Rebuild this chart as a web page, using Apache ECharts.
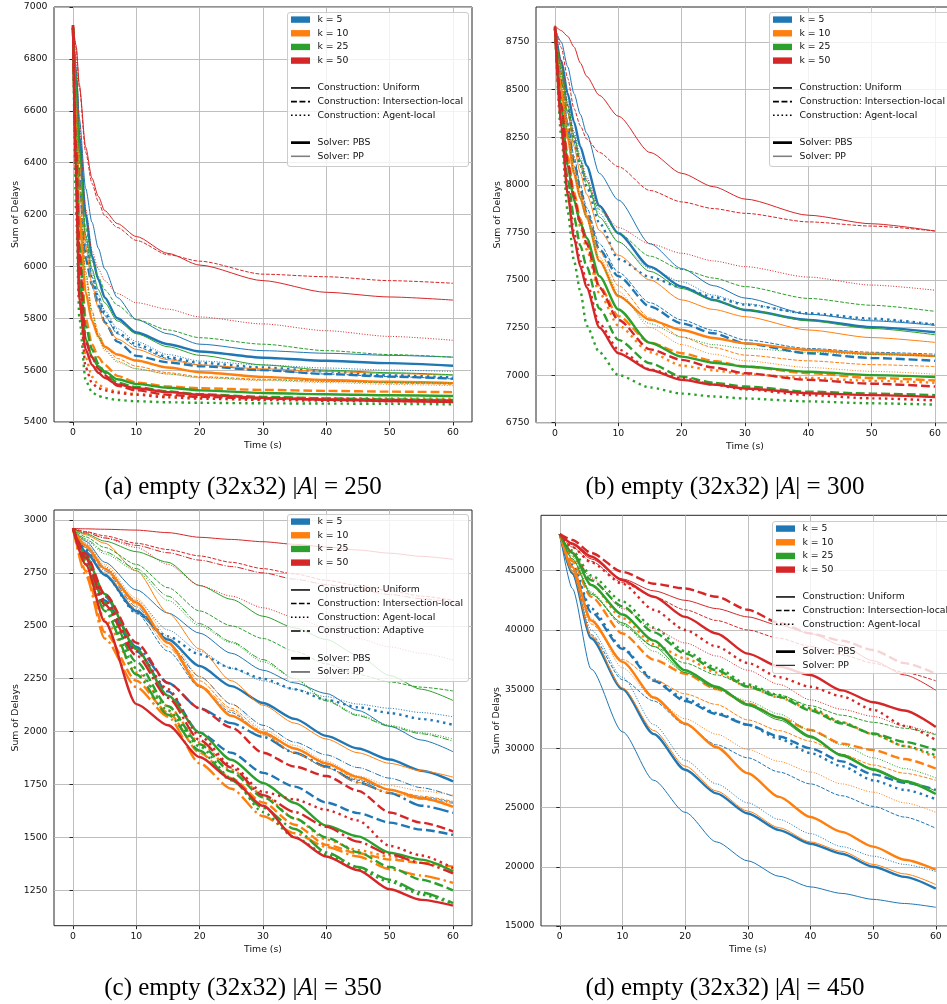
<!DOCTYPE html>
<html>
<head>
<meta charset="utf-8">
<script src="https://cdn.jsdelivr.net/npm/echarts@6/dist/echarts.min.js"></script>
<style>
html, body { margin: 0; padding: 0; background: #fff; }
#chart { width: 947px; height: 1004px; }
</style>
</head>
<body>
<div id="chart"></div>
<script>
// ---- categories ----
const K_LABELS = ['k = 5', 'k = 10', 'k = 25', 'k = 50'];
const K_COLORS = ['#1f77b4', '#ff7f0e', '#2ca02c', '#d62728'];
const SOLVERS = ['PBS', 'PP'];

// ---- time samples (s) ----
const TIME_A = [0, 0.5, 1, 2, 3, 4, 5, 7, 10, 15, 20, 30, 40, 50, 60];
const TIME_B = [0, 1, 2, 3, 4, 5, 7, 10, 15, 20, 25, 30, 40, 50, 60];
const TIME_C = [0, 2, 5, 10, 15, 20, 25, 30, 35, 40, 45, 50, 55, 60];
const TIME_D = [0, 2, 5, 10, 15, 20, 25, 30, 35, 40, 45, 50, 55, 60];

// ---- tick labels ----
const X_TICKS = [0, 10, 20, 30, 40, 50, 60];
const Y_TICKS_A = [5400, 5600, 5800, 6000, 6200, 6400, 6600, 6800, 7000];
const Y_TICKS_B = [6750, 7000, 7250, 7500, 7750, 8000, 8250, 8500, 8750];
const Y_TICKS_C = [1250, 1500, 1750, 2000, 2250, 2500, 2750, 3000];
const Y_TICKS_D = [15000, 20000, 25000, 30000, 35000, 40000, 45000];

// ---- (a) |A| = 250 : sum of delays ----
const a_k5_PBS = {
  'Uniform':            [6920, 6720, 6500, 6200, 6040, 5950, 5880, 5800, 5745, 5700, 5672, 5648, 5636, 5627, 5617],
  'Intersection-local': [6920, 6620, 6330, 6030, 5930, 5850, 5785, 5710, 5655, 5630, 5615, 5600, 5585, 5575, 5567],
  'Agent-local':        [6920, 6640, 6360, 6060, 5960, 5880, 5820, 5745, 5700, 5650, 5628, 5610, 5595, 5580, 5572]
};
const a_k5_PP = {
  'Uniform':            [6920, 6760, 6570, 6300, 6170, 6070, 5990, 5880, 5795, 5740, 5700, 5675, 5665, 5657, 5650],
  'Intersection-local': [6920, 6680, 6420, 6100, 5960, 5870, 5810, 5740, 5690, 5645, 5620, 5600, 5585, 5575, 5566],
  'Agent-local':        [6920, 6690, 6440, 6120, 5980, 5890, 5830, 5760, 5710, 5660, 5635, 5620, 5608, 5600, 5595]
};
const a_k10_PBS = {
  'Uniform':            [6920, 6550, 6200, 5900, 5790, 5730, 5690, 5660, 5637, 5610, 5592, 5574, 5562, 5555, 5550],
  'Intersection-local': [6920, 6500, 6130, 5800, 5700, 5650, 5620, 5578, 5552, 5537, 5530, 5524, 5520, 5517, 5515],
  'Agent-local':        [6920, 6380, 5950, 5650, 5575, 5545, 5530, 5517, 5508, 5500, 5496, 5494, 5492, 5491, 5490]
};
const a_k10_PP = {
  'Uniform':            [6920, 6680, 6420, 6080, 5930, 5840, 5780, 5720, 5680, 5640, 5620, 5605, 5595, 5587, 5580],
  'Intersection-local': [6920, 6620, 6330, 5980, 5830, 5745, 5695, 5645, 5615, 5590, 5575, 5565, 5558, 5550, 5545],
  'Agent-local':        [6920, 6600, 6300, 5950, 5800, 5720, 5675, 5630, 5605, 5585, 5570, 5560, 5552, 5545, 5540]
};
const a_k25_PBS = {
  'Uniform':            [6920, 6350, 5950, 5720, 5650, 5615, 5595, 5565, 5547, 5532, 5522, 5512, 5507, 5503, 5500],
  'Intersection-local': [6920, 6450, 6080, 5770, 5680, 5625, 5590, 5552, 5535, 5518, 5507, 5497, 5491, 5487, 5485],
  'Agent-local':        [6920, 6200, 5800, 5560, 5515, 5500, 5493, 5485, 5480, 5476, 5474, 5472, 5471, 5470, 5468]
};
const a_k25_PP = {
  'Uniform':            [6920, 6690, 6450, 6120, 5990, 5910, 5860, 5790, 5740, 5690, 5657, 5620, 5600, 5590, 5582],
  'Intersection-local': [6920, 6750, 6460, 6150, 6020, 5960, 5910, 5850, 5795, 5755, 5725, 5700, 5675, 5660, 5650],
  'Agent-local':        [6920, 6640, 6320, 5970, 5820, 5730, 5680, 5635, 5605, 5585, 5572, 5562, 5556, 5552, 5550]
};
const a_k50_PBS = {
  'Uniform':            [6930, 6300, 5870, 5680, 5620, 5590, 5570, 5545, 5530, 5515, 5505, 5493, 5486, 5481, 5477],
  'Intersection-local': [6930, 6450, 6050, 5710, 5650, 5605, 5580, 5540, 5522, 5505, 5497, 5490, 5487, 5485, 5483],
  'Agent-local':        [6930, 6350, 5900, 5610, 5550, 5530, 5522, 5512, 5505, 5495, 5490, 5485, 5482, 5480, 5478]
};
const a_k50_PP = {
  'Uniform':            [6930, 6850, 6700, 6460, 6340, 6270, 6215, 6165, 6115, 6050, 6005, 5945, 5900, 5882, 5870],
  'Intersection-local': [6930, 6840, 6690, 6440, 6320, 6250, 6195, 6150, 6100, 6045, 6020, 5970, 5960, 5945, 5935],
  'Agent-local':        [6930, 6800, 6550, 6220, 6060, 5990, 5945, 5895, 5860, 5835, 5805, 5778, 5752, 5730, 5715]
};

// ---- (b) |A| = 300 ----
const b_k5_PBS = {
  'Uniform':            [8820, 8650, 8480, 8330, 8200, 8100, 7890, 7745, 7570, 7465, 7395, 7342, 7290, 7252, 7225],
  'Intersection-local': [8820, 8550, 8300, 8120, 7970, 7850, 7660, 7520, 7360, 7272, 7220, 7167, 7115, 7090, 7075],
  'Agent-local':        [8820, 8600, 8400, 8230, 8100, 7990, 7800, 7610, 7515, 7460, 7410, 7370, 7325, 7297, 7265]
};
const b_k5_PP = {
  'Uniform':            [8820, 8750, 8620, 8480, 8370, 8270, 8060, 7920, 7690, 7560, 7470, 7405, 7320, 7285, 7262],
  'Intersection-local': [8820, 8580, 8330, 8150, 8000, 7880, 7690, 7540, 7380, 7290, 7235, 7185, 7140, 7120, 7110],
  'Agent-local':        [8820, 8630, 8440, 8280, 8150, 8040, 7850, 7700, 7560, 7490, 7420, 7375, 7320, 7290, 7268]
};
const b_k10_PBS = {
  'Uniform':            [8820, 8500, 8250, 8060, 7930, 7830, 7600, 7415, 7290, 7237, 7195, 7167, 7132, 7112, 7100],
  'Intersection-local': [8820, 8450, 8150, 7960, 7820, 7700, 7470, 7310, 7170, 7115, 7075, 7045, 7010, 6985, 6972],
  'Agent-local':        [8820, 8430, 8120, 7920, 7780, 7660, 7430, 7260, 7120, 7050, 7025, 7005, 6985, 6970, 6960]
};
const b_k10_PP = {
  'Uniform':            [8820, 8600, 8380, 8200, 8060, 7950, 7760, 7630, 7500, 7395, 7345, 7307, 7237, 7197, 7172],
  'Intersection-local': [8820, 8570, 8300, 8100, 7960, 7850, 7650, 7470, 7300, 7200, 7145, 7105, 7075, 7055, 7045],
  'Agent-local':        [8820, 8550, 8280, 8080, 7940, 7830, 7620, 7440, 7250, 7160, 7110, 7075, 7040, 7020, 7005]
};
const b_k25_PBS = {
  'Uniform':            [8820, 8400, 8100, 7920, 7800, 7720, 7520, 7345, 7170, 7097, 7065, 7045, 7018, 7000, 6990],
  'Intersection-local': [8820, 8350, 8030, 7830, 7680, 7570, 7350, 7185, 7062, 6992, 6960, 6940, 6913, 6903, 6895],
  'Agent-local':        [8820, 8250, 7860, 7600, 7440, 7260, 7120, 7000, 6935, 6903, 6888, 6877, 6862, 6852, 6845]
};
const b_k25_PP = {
  'Uniform':            [8820, 8620, 8420, 8260, 8130, 8020, 7830, 7700, 7545, 7455, 7395, 7345, 7285, 7245, 7212],
  'Intersection-local': [8820, 8600, 8380, 8220, 8100, 8000, 7870, 7745, 7625, 7555, 7510, 7465, 7403, 7367, 7335],
  'Agent-local':        [8820, 8550, 8270, 8070, 7930, 7820, 7600, 7420, 7270, 7200, 7160, 7140, 7120, 7108, 7100]
};
const b_k50_PBS = {
  'Uniform':            [8830, 8300, 7950, 7720, 7570, 7460, 7250, 7115, 7027, 6975, 6950, 6930, 6905, 6895, 6885],
  'Intersection-local': [8830, 8420, 8120, 7940, 7800, 7690, 7460, 7290, 7135, 7080, 7040, 7010, 6975, 6955, 6940],
  'Agent-local':        [8830, 8320, 7980, 7750, 7600, 7490, 7270, 7135, 7030, 6985, 6950, 6925, 6895, 6878, 6867]
};
const b_k50_PP = {
  'Uniform':            [8835, 8810, 8780, 8725, 8640, 8570, 8470, 8360, 8170, 8060, 7990, 7925, 7840, 7795, 7757],
  'Intersection-local': [8835, 8720, 8560, 8400, 8310, 8240, 8170, 8095, 7970, 7910, 7875, 7850, 7805, 7783, 7757],
  'Agent-local':        [8835, 8650, 8420, 8250, 8120, 8030, 7880, 7775, 7690, 7640, 7600, 7570, 7515, 7473, 7446]
};

// ---- (c) |A| = 350 ----
const c_k5_PBS = {
  'Uniform':            [2960, 2850, 2740, 2570, 2435, 2310, 2215, 2135, 2060, 1980, 1920, 1868, 1815, 1765],
  'Intersection-local': [2960, 2820, 2620, 2380, 2190, 1995, 1900, 1805, 1740, 1665, 1615, 1570, 1537, 1512],
  'Agent-local':        [2960, 2860, 2740, 2560, 2450, 2365, 2300, 2250, 2200, 2150, 2115, 2088, 2060, 2032],
  'Adaptive':           [2960, 2830, 2640, 2400, 2230, 2110, 2040, 1975, 1900, 1835, 1760, 1710, 1650, 1616]
};
const c_k5_PP = {
  'Uniform':            [2960, 2900, 2800, 2670, 2560, 2465, 2370, 2290, 2230, 2180, 2100, 2025, 1960, 1905],
  'Intersection-local': [2960, 2870, 2740, 2560, 2380, 2210, 2090, 1990, 1900, 1830, 1770, 1725, 1690, 1665],
  'Agent-local':        [2960, 2890, 2780, 2620, 2480, 2380, 2300, 2240, 2200, 2165, 2130, 2110, 2090, 2070],
  'Adaptive':           [2960, 2880, 2760, 2590, 2420, 2260, 2130, 2030, 1950, 1890, 1830, 1780, 1735, 1695]
};
const c_k10_PBS = {
  'Uniform':            [2960, 2880, 2770, 2610, 2420, 2215, 2075, 1995, 1920, 1850, 1785, 1725, 1685, 1645],
  'Intersection-local': [2960, 2760, 2470, 2240, 2090, 1900, 1780, 1665, 1560, 1465, 1425, 1396, 1380, 1362],
  'Agent-local':        [2960, 2790, 2530, 2280, 2120, 1950, 1820, 1700, 1590, 1490, 1440, 1410, 1380, 1352],
  'Adaptive':           [2960, 2740, 2440, 2210, 2070, 1850, 1730, 1600, 1520, 1455, 1410, 1350, 1320, 1285]
};
const c_k10_PP = {
  'Uniform':            [2960, 2930, 2890, 2760, 2560, 2390, 2240, 2125, 2040, 1965, 1900, 1850, 1815, 1785],
  'Intersection-local': [2960, 2880, 2770, 2600, 2420, 2240, 2110, 2000, 1920, 1845, 1775, 1725, 1695, 1670],
  'Agent-local':        [2960, 2890, 2790, 2630, 2450, 2260, 2130, 2010, 1935, 1860, 1790, 1745, 1720, 1700],
  'Adaptive':           [2960, 2870, 2750, 2580, 2400, 2220, 2100, 1985, 1900, 1830, 1760, 1710, 1680, 1660]
};
const c_k25_PBS = {
  'Uniform':            [2960, 2830, 2650, 2390, 2170, 1995, 1867, 1757, 1663, 1555, 1505, 1428, 1395, 1340],
  'Intersection-local': [2960, 2810, 2610, 2330, 2120, 1940, 1810, 1690, 1590, 1500, 1430, 1360, 1300, 1250],
  'Agent-local':        [2960, 2800, 2590, 2300, 2100, 1930, 1780, 1620, 1500, 1420, 1350, 1290, 1230, 1185],
  'Adaptive':           [2960, 2790, 2570, 2270, 2080, 1910, 1770, 1640, 1540, 1430, 1360, 1300, 1240, 1190]
};
const c_k25_PP = {
  'Uniform':            [2960, 2935, 2900, 2850, 2800, 2690, 2625, 2545, 2490, 2435, 2360, 2265, 2200, 2147],
  'Intersection-local': [2960, 2920, 2870, 2790, 2680, 2570, 2500, 2440, 2380, 2320, 2270, 2235, 2210, 2192],
  'Agent-local':        [2960, 2905, 2840, 2760, 2620, 2500, 2420, 2330, 2250, 2150, 2080, 2030, 1995, 1965],
  'Adaptive':           [2960, 2910, 2850, 2770, 2640, 2510, 2425, 2340, 2250, 2145, 2075, 2025, 1990, 1955]
};
const c_k50_PBS = {
  'Uniform':            [2960, 2790, 2520, 2130, 2030, 1880, 1775, 1650, 1500, 1410, 1345, 1255, 1205, 1178],
  'Intersection-local': [2960, 2840, 2650, 2420, 2230, 2110, 2020, 1900, 1835, 1790, 1720, 1618, 1570, 1528],
  'Agent-local':        [2960, 2830, 2620, 2380, 2200, 1980, 1840, 1715, 1680, 1630, 1580, 1460, 1415, 1355],
  'Adaptive':           [2960, 2820, 2600, 2360, 2160, 1960, 1830, 1700, 1620, 1550, 1480, 1420, 1380, 1330]
};
const c_k50_PP = {
  'Uniform':            [2960, 2958, 2956, 2952, 2940, 2918, 2908, 2897, 2885, 2872, 2858, 2843, 2828, 2814],
  'Intersection-local': [2960, 2945, 2925, 2890, 2860, 2830, 2800, 2770, 2745, 2715, 2690, 2665, 2640, 2620],
  'Agent-local':        [2960, 2945, 2915, 2870, 2790, 2690, 2640, 2585, 2540, 2490, 2440, 2400, 2370, 2338],
  'Adaptive':           [2960, 2940, 2915, 2880, 2845, 2810, 2780, 2750, 2720, 2695, 2670, 2648, 2628, 2610]
};

// ---- (d) |A| = 450 ----
const d_k5_PBS = {
  'Uniform':            [48100, 44800, 39300, 35000, 31200, 28200, 26200, 24500, 23100, 21950, 21100, 20000, 19150, 18150],
  'Intersection-local': [48100, 45300, 41500, 38400, 35700, 34000, 32900, 32000, 31000, 30000, 28900, 27800, 27100, 26500],
  'Agent-local':        [48100, 45500, 41800, 38500, 35800, 34200, 33000, 32000, 30800, 29600, 28500, 27300, 26500, 25700]
};
const d_k5_PP = {
  'Uniform':            [48100, 43500, 36700, 31400, 27300, 24600, 22100, 20500, 19200, 18300, 17750, 17250, 16900, 16580],
  'Intersection-local': [48100, 44700, 39600, 35800, 34000, 32000, 30300, 29200, 28000, 27000, 26000, 25100, 24200, 23250],
  'Agent-local':        [48100, 45000, 40000, 36000, 32000, 29000, 27000, 25400, 24000, 22800, 21700, 20900, 20200, 19600]
};
const d_k10_PBS = {
  'Uniform':            [48100, 45300, 40800, 37300, 34300, 32100, 30100, 27900, 25900, 24200, 22950, 21700, 20600, 19750],
  'Intersection-local': [48100, 45800, 42800, 39700, 37500, 36300, 35000, 33800, 32600, 31550, 30400, 29850, 29100, 28300],
  'Agent-local':        [48100, 46300, 43800, 41000, 38800, 37600, 36400, 35200, 34300, 33300, 32200, 31200, 30200, 29200]
};
const d_k10_PP = {
  'Uniform':            [48100, 44900, 39500, 35100, 31500, 28500, 26400, 24700, 23300, 22100, 21300, 20200, 19400, 18500],
  'Intersection-local': [48100, 45000, 40500, 37500, 35800, 34600, 33700, 32400, 31500, 30600, 29500, 28600, 27900, 27300],
  'Agent-local':        [48100, 45300, 41000, 36800, 34200, 32500, 31200, 29900, 28900, 28000, 27000, 26300, 25400, 24600]
};
const d_k25_PBS = {
  'Uniform':            [48100, 46500, 43800, 41300, 39100, 36600, 35200, 33700, 32600, 31000, 29400, 28200, 27200, 26150],
  'Intersection-local': [48100, 46500, 44200, 42000, 39800, 38000, 36600, 35200, 34350, 33200, 32100, 31250, 30550, 29850],
  'Agent-local':        [48100, 46700, 44600, 42400, 40200, 38200, 36800, 35400, 34500, 33400, 32200, 31200, 30200, 29400]
};
const d_k25_PP = {
  'Uniform':            [48100, 46000, 43000, 40600, 38600, 36400, 35100, 33600, 32400, 30900, 29500, 28300, 27300, 26400],
  'Intersection-local': [48100, 46000, 43100, 40400, 38600, 37200, 36200, 35300, 34500, 33600, 32800, 32200, 31700, 31150],
  'Agent-local':        [48100, 46200, 43200, 40500, 38200, 36400, 35000, 34000, 32900, 31500, 30300, 29200, 28300, 27500]
};
const d_k50_PBS = {
  'Uniform':            [48100, 47300, 46200, 44200, 42800, 41100, 39700, 38000, 36900, 36200, 34900, 33900, 33200, 31800],
  'Intersection-local': [48100, 47600, 46500, 44900, 43900, 43500, 42800, 41700, 40600, 39700, 39100, 38300, 37200, 36300],
  'Agent-local':        [48100, 47000, 45700, 43900, 41700, 40000, 38600, 37200, 36000, 35200, 34400, 33250, 31900, 30700]
};
const d_k50_PP = {
  'Uniform':            [48100, 47200, 46000, 44300, 43300, 42500, 41800, 41100, 40400, 39700, 38700, 37400, 36200, 34900],
  'Intersection-local': [48100, 47000, 45800, 44000, 42800, 41700, 40800, 40000, 39300, 38600, 37900, 37200, 36400, 35700],
  'Agent-local':        [48100, 46600, 44400, 41800, 40100, 38900, 37800, 36600, 35400, 34100, 33300, 32700, 31900, 31200]
};

// ---- layout ----
const FONT = '"DejaVu Sans", sans-serif';
const TEXT = '#111';
const PANELS = [
  { time: TIME_A, runs: [[a_k5_PBS, a_k5_PP], [a_k10_PBS, a_k10_PP], [a_k25_PBS, a_k25_PP], [a_k50_PBS, a_k50_PP]],
    grid: { left: 54, top: 7, width: 418, height: 415 }, y: [5400, 7000], yTicks: Y_TICKS_A,
    legend: { x: 287, y: 12, h: 154, thin: 'gray' }, caption: { x: 243, y: 487, tag: 'a', n: 250 } },
  { time: TIME_B, runs: [[b_k5_PBS, b_k5_PP], [b_k10_PBS, b_k10_PP], [b_k25_PBS, b_k25_PP], [b_k50_PBS, b_k50_PP]],
    grid: { left: 536, top: 7, width: 418, height: 415.7 }, y: [6750, 8934], yTicks: Y_TICKS_B,
    legend: { x: 769, y: 12, h: 154, thin: 'gray' }, caption: { x: 725, y: 487, tag: 'b', n: 300 } },
  { time: TIME_C, runs: [[c_k5_PBS, c_k5_PP], [c_k10_PBS, c_k10_PP], [c_k25_PBS, c_k25_PP], [c_k50_PBS, c_k50_PP]],
    grid: { left: 54, top: 510, width: 418, height: 415.7 }, y: [1083, 3047], yTicks: Y_TICKS_C,
    legend: { x: 287, y: 514, h: 167, thin: 'black' }, caption: { x: 243, y: 988, tag: 'c', n: 350 } },
  { time: TIME_D, runs: [[d_k5_PBS, d_k5_PP], [d_k10_PBS, d_k10_PP], [d_k25_PBS, d_k25_PP], [d_k50_PBS, d_k50_PP]],
    grid: { left: 541, top: 515.3, width: 413.6, height: 410.7 }, y: [15000, 49680], yTicks: Y_TICKS_D,
    legend: { x: 772, y: 521, h: 152, thin: 'black' }, caption: { x: 725, y: 988, tag: 'd', n: 450 } }
];

// matplotlib-style dash patterns, scaled by line width
function dashFor(construction, w) {
  if (construction === 'Intersection-local') return [3.7 * w, 1.6 * w];
  if (construction === 'Agent-local') return [1 * w, 1.65 * w];
  if (construction === 'Adaptive') return [6.4 * w, 1.6 * w, 1 * w, 1.6 * w];
  return 'solid';
}
const WIDTH = { PBS: 2.4, PP: 1.0 };

const grids = [], xAxes = [], yAxes = [], series = [], graphics = [];
const axisText = { fontFamily: FONT, fontSize: 9.3, color: TEXT };

PANELS.forEach((p, i) => {
  grids.push(Object.assign({ show: true, borderColor: '#262626', borderWidth: 1,
    backgroundColor: 'transparent', containLabel: false, outerBoundsMode: 'none' }, p.grid));
  xAxes.push({
    gridIndex: i, type: 'value', min: -3, max: 63,
    axisLine: { show: false },
    axisTick: { show: true, length: 3.5, customValues: X_TICKS, lineStyle: { color: '#262626', width: 1 } },
    axisLabel: Object.assign({ customValues: X_TICKS, margin: 6.5, formatter: v => String(v) }, axisText),
    splitLine: { show: true, lineStyle: { color: '#b8b8b8', width: 0.9 } },
    name: 'Time (s)', nameLocation: 'middle', nameGap: 19, nameTextStyle: axisText
  });
  yAxes.push({
    gridIndex: i, type: 'value', min: p.y[0], max: p.y[1],
    axisLine: { show: false },
    axisTick: { show: true, length: 3.5, customValues: p.yTicks, lineStyle: { color: '#262626', width: 1 } },
    axisLabel: Object.assign({ customValues: p.yTicks, margin: 6.5, formatter: v => String(v) }, axisText),
    splitLine: { show: true, lineStyle: { color: '#b8b8b8', width: 0.9 } },
    name: 'Sum of Delays', nameLocation: 'middle', nameGap: 34, nameTextStyle: axisText
  });

  p.runs.forEach((pair, k) => {
    [1, 0].forEach(s => {
      const solver = SOLVERS[s];
      const runs = pair[s];
      Object.keys(runs).forEach(construction => {
        const w = WIDTH[solver];
        series.push({
          name: `${K_LABELS[k]} ${construction} ${solver}`,
          type: 'line', xAxisIndex: i, yAxisIndex: i,
          data: p.time.map((t, j) => [t, runs[construction][j]]),
          showSymbol: false, symbol: 'none',
          smooth: 0.25, smoothMonotone: 'x',
          lineStyle: { color: K_COLORS[k], width: w, type: dashFor(construction, w), cap: 'butt' },
          emphasis: { disabled: true }, silent: true, animation: false, z: 2
        });
      });
    });
  });

  // legend block
  const L = p.legend.x, T = p.legend.y;
  const constructions = Object.keys(p.runs[0][0]);
  const rows = [];
  K_LABELS.forEach((lab, k) => rows.push({ patch: K_COLORS[k], text: lab }));
  rows.push(null);
  const cw = p.legend.thin === 'gray' ? 1.6 : 1.5;
  constructions.forEach(c => rows.push({ stroke: '#000', width: cw, dash: dashFor(c, cw), text: 'Construction: ' + c }));
  rows.push(null);
  rows.push({ stroke: '#000', width: 2.7, dash: 'solid', text: 'Solver: PBS' });
  rows.push(p.legend.thin === 'gray'
    ? { stroke: '#808080', width: 1.6, dash: 'solid', text: 'Solver: PP' }
    : { stroke: '#000', width: 1.0, dash: 'solid', text: 'Solver: PP' });

  graphics.push({
    type: 'rect', z: 100,
    shape: { x: L + 0.5, y: T + 0.5, width: 181, height: p.legend.h, r: 2.5 },
    style: { fill: 'rgba(255,255,255,0.8)', stroke: '#cccccc', lineWidth: 1 }
  });
  rows.forEach((r, idx) => {
    if (!r) return;
    const cy = T + 7.6 + idx * 13.67;
    if (r.patch) {
      graphics.push({ type: 'rect', z: 101, shape: { x: L + 4, y: cy - 3.2, width: 19, height: 6.4 }, style: { fill: r.patch } });
    } else {
      graphics.push({ type: 'line', z: 101, shape: { x1: L + 4, y1: cy, x2: L + 23, y2: cy },
        style: { stroke: r.stroke, lineWidth: r.width, lineDash: r.dash === 'solid' ? null : r.dash, lineCap: 'butt' } });
    }
    graphics.push({ type: 'text', z: 101, x: L + 30.5, y: cy,
      style: { text: r.text, font: '9.3px ' + FONT, fill: TEXT, verticalAlign: 'middle', align: 'left' } });
  });

  // sub-figure caption
  const cap = p.caption;
  graphics.push({
    type: 'text', z: 101, x: cap.x, y: cap.y,
    style: {
      text: `{n|(${cap.tag}) empty (32x32) |}{i|A}{n|| = ${cap.n}}`,
      align: 'center', verticalAlign: 'middle', fill: '#000',
      font: '25px "Liberation Serif", serif',
      rich: {
        n: { fontFamily: '"Liberation Serif", serif', fontSize: 25, fill: '#000' },
        i: { fontFamily: '"Liberation Serif", serif', fontSize: 25, fontStyle: 'italic', fill: '#000' }
      }
    }
  });
});

const chart = echarts.init(document.getElementById('chart'), null, { renderer: 'canvas' });
chart.setOption({
  animation: false,
  backgroundColor: '#fff',
  grid: grids,
  xAxis: xAxes,
  yAxis: yAxes,
  series: series,
  graphic: { elements: graphics }
});
</script>
</body>
</html>
